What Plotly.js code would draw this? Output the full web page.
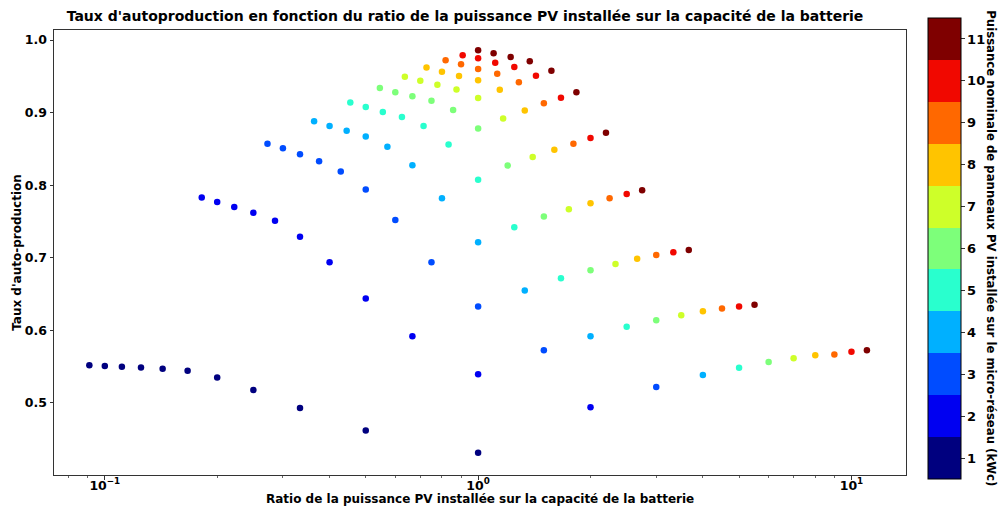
<!DOCTYPE html>
<html>
<head>
<meta charset="utf-8">
<script src="https://cdn.plot.ly/plotly-3.0.1.min.js"></script>
<style>html,body{margin:0;padding:0;background:#fff;}#chart{width:998px;height:507px;}</style>
</head>
<body>
<div id="chart"></div>
<script>
// PV nominal power (kWc) and battery capacity levels
const pvPower = [1, 2, 3, 4, 5, 6, 7, 8, 9, 10, 11];
const batteryCapacity = [11, 10, 9, 8, 7, 6, 5, 4, 3, 2, 1];

// Self-production rate, one array per PV power, ordered by battery capacity above
const autoprodPV1  = [0.552, 0.551, 0.550, 0.549, 0.547, 0.5445, 0.535, 0.518, 0.493, 0.462, 0.4316];
const autoprodPV2  = [0.783, 0.777, 0.770, 0.762, 0.751, 0.729, 0.694, 0.644, 0.592, 0.5395, 0.494];
const autoprodPV3  = [0.857, 0.851, 0.8426, 0.833, 0.819, 0.794, 0.752, 0.694, 0.633, 0.5726, 0.522];
const autoprodPV4  = [0.888, 0.8815, 0.875, 0.867, 0.853, 0.8274, 0.782, 0.7213, 0.655, 0.592, 0.5386];
const autoprodPV5  = [0.914, 0.9077, 0.901, 0.894, 0.8815, 0.856, 0.8076, 0.742, 0.672, 0.605, 0.5486];
const autoprodPV6  = [0.934, 0.928, 0.9224, 0.9164, 0.9036, 0.878, 0.827, 0.757, 0.683, 0.614, 0.5565];
const autoprodPV7  = [0.9495, 0.944, 0.9385, 0.932, 0.920, 0.892, 0.839, 0.767, 0.6915, 0.621, 0.5616];
const autoprodPV8  = [0.962, 0.9564, 0.9504, 0.9445, 0.9316, 0.903, 0.849, 0.775, 0.6988, 0.6263, 0.5657];
const autoprodPV9  = [0.972, 0.9665, 0.960, 0.9536, 0.9417, 0.9128, 0.857, 0.782, 0.704, 0.630, 0.5668];
const autoprodPV10 = [0.979, 0.9748, 0.9688, 0.9628, 0.9508, 0.9205, 0.865, 0.788, 0.7076, 0.633, 0.5707];
const autoprodPV11 = [0.9858, 0.9817, 0.9766, 0.9706, 0.9577, 0.928, 0.8723, 0.793, 0.7107, 0.6354, 0.5726];

const jetColors = ['#00007f', '#0000f1', '#004cff', '#00b0ff', '#29ffce', '#7dff7a',
                   '#ceff29', '#ffc400', '#ff6800', '#f10800', '#7f0000'];
const xTickVals = [0.1, 1, 10];
const xTickText = ['10<sup>−1</sup>', '10<sup>0</sup>', '10<sup>1</sup>'];
const yTickVals = [0.5, 0.6, 0.7, 0.8, 0.9, 1.0];
const yTickText = ['0.5', '0.6', '0.7', '0.8', '0.9', '1.0'];

const series = [autoprodPV1, autoprodPV2, autoprodPV3, autoprodPV4, autoprodPV5, autoprodPV6,
                autoprodPV7, autoprodPV8, autoprodPV9, autoprodPV10, autoprodPV11];

const xs = [], ys = [], cs = [];
pvPower.forEach((p, i) => {
  batteryCapacity.forEach((b, j) => {
    xs.push(p / b);
    ys.push(series[i][j]);
    cs.push(p);
  });
});

// stepped colorscale
const n = jetColors.length;
const colorscale = [];
jetColors.forEach((c, i) => {
  colorscale.push([i / n, c]);
  colorscale.push([(i + 1) / n, c]);
});

// minor ticks for log axis
const minorVals = [];
[0.01, 0.1, 1, 10].forEach(d => { for (let k = 2; k <= 9; k++) minorVals.push(d * k); });

const boldTick = {family: 'DejaVu Sans', size: 12.5, color: '#000', weight: 'bold'};

const trace = {
  type: 'scatter', mode: 'markers',
  x: xs, y: ys,
  marker: {
    size: 6.5, color: cs, colorscale: colorscale, cmin: 0.5, cmax: 11.5,
    line: {width: 0},
    showscale: true,
    colorbar: {
      x: 1.0258, xanchor: 'left', xpad: 0, ypad: 0,
      y: 0.509, yanchor: 'middle',
      thickness: 33, thicknessmode: 'pixels',
      len: 461, lenmode: 'pixels',
      outlinecolor: '#000', outlinewidth: 1,
      tickmode: 'array', tickvals: pvPower, ticktext: pvPower.map(String),
      ticks: 'outside', ticklen: 3.5, tickcolor: '#000', tickwidth: 0.8,
      tickfont: {family: 'DejaVu Sans', size: 13, color: '#000', weight: 'bold'},
      title: {text: ''}
    }
  },
  hoverinfo: 'x+y'
};

const layout = {
  width: 998, height: 507,
  margin: {l: 54, r: 90, t: 30, b: 32},
  paper_bgcolor: '#fff', plot_bgcolor: '#fff',
  font: {family: 'DejaVu Sans', size: 12, color: '#000'},
  showlegend: false,
  title: {
    text: "<b>Taux d'autoproduction en fonction du ratio de la puissance PV installée sur la capacité de la batterie</b>",
    font: {family: 'DejaVu Sans', size: 14, color: '#000'},
    x: 0.4824, xanchor: 'center', xref: 'paper', y: 0.968, yanchor: 'middle'
  },
  xaxis: {
    type: 'log', range: [Math.log10(0.0731), Math.log10(14.0)],
    tickmode: 'array', tickvals: xTickVals, ticktext: xTickText,
    ticks: 'outside', ticklen: 3.5, tickwidth: 0.8, tickcolor: '#000',
    ticklabelstandoff: -5,
    minor: {tickmode: 'array', tickvals: minorVals, ticks: 'outside', ticklen: 2, tickwidth: 0.6, tickcolor: '#000', showgrid: false},
    showgrid: false, zeroline: false,
    showline: true, linecolor: '#333', linewidth: 1, mirror: true,
    tickfont: boldTick,
    title: {text: ''}
  },
  yaxis: {
    range: [0.4008, 1.0138],
    tickmode: 'array', tickvals: yTickVals, ticktext: yTickText,
    ticks: 'outside', ticklen: 3.5, tickwidth: 0.8, tickcolor: '#000',
    showgrid: false, zeroline: false,
    showline: true, linecolor: '#333', linewidth: 1, mirror: true,
    tickfont: boldTick,
    title: {text: "<b>Taux d'auto-production</b>",
            font: {family: 'DejaVu Sans', size: 12, color: '#000'}, standoff: 0}
  },
  annotations: [{
    text: '<b>Ratio de la puissance PV installée sur la capacité de la batterie</b>',
    xref: 'paper', yref: 'paper', x: 0.5, y: -0.0545,
    xanchor: 'center', yanchor: 'middle', showarrow: false,
    font: {family: 'DejaVu Sans', size: 12, color: '#000'}
  }, {
    text: '<b>Puissance nominale de panneaux PV installée sur le micro-réseau (kWc)</b>',
    xref: 'paper', yref: 'paper', x: 1.0995, y: 0.510,
    xanchor: 'center', yanchor: 'middle', textangle: 90, showarrow: false,
    font: {family: 'DejaVu Sans', size: 11.7, color: '#000'}
  }]
};

Plotly.newPlot('chart', [trace], layout, {displayModeBar: false, staticPlot: true});
</script>
</body>
</html>
